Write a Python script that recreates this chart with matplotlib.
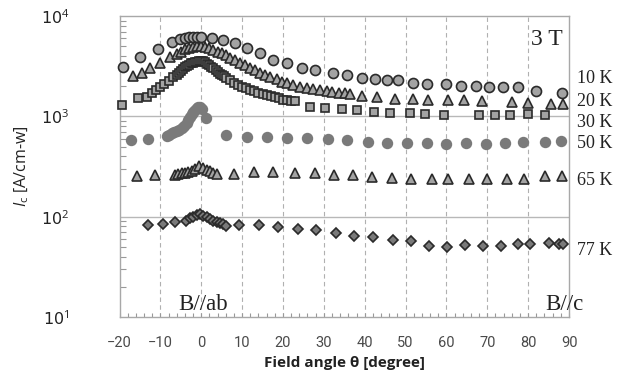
import matplotlib
matplotlib.use("Agg")
import matplotlib.pyplot as plt
from matplotlib.ticker import MultipleLocator, LogLocator, FixedLocator, NullFormatter

# ---------------- data ----------------
x_10K = [-19.2, -15, -10.7, -7.2, -5.2, -4, -3, -2, -1, 0, 2.6, 5.4, 8.3, 11.1, 14.4,
         17.6, 20.9, 24.6, 27.8, 32.3, 35.6, 39.3, 42.5, 45.5, 48.2, 51.9, 55.2, 59.8,
         63.6, 67.2, 70.4, 73.8, 77.5, 81.9, 88.2]
y_10K = [3120, 3875, 4650, 5500, 5900, 6080, 6150, 6200, 6200, 6150, 6000, 5720, 5380,
         4830, 4250, 3640, 3370, 3050, 2900, 2720, 2560, 2390, 2370, 2300, 2280, 2160,
         2100, 2100, 2005, 1990, 1980, 1980, 1970, 1800, 1720]

x_20K = [-16.6, -14.6, -12.5, -10.1, -7.6, -6, -5, -4, -3, -2, -1, 0, 1, 2, 3, 4, 5, 6,
         7, 8.3, 9.5, 10.7, 11.9, 13.2, 14.4, 15.6, 16.8, 18.5, 19.7, 20.9, 22.5, 24.2,
         25.8, 27.4, 29.1, 30.7, 32, 33.6, 35.2, 36.4, 39.3, 42.9, 47.4, 51.9, 55.6,
         60.5, 64.2, 68.6, 76, 79.9, 85.5, 88.6]
y_20K = [2500, 2720, 3010, 3430, 3875, 4150, 4400, 4700, 4850, 4950, 5000, 5000, 4900,
         4800, 4600, 4400, 4250, 4050, 3840, 3640, 3420, 3245, 3050, 2900, 2720, 2580,
         2450, 2340, 2210, 2130, 2050, 1970, 1930, 1890, 1850, 1800, 1760, 1720, 1690,
         1668, 1603, 1556, 1500, 1475, 1460, 1460, 1450, 1430, 1390, 1350, 1330, 1320]

x_30K = [-19.5, -15.4, -13.3, -12, -11, -10, -9, -8, -7, -6, -5.5, -5, -4.5, -4, -3.5,
         -3, -2.5, -2, -1.5, -1, -0.5, 0, 0.5, 1, 1.5, 2, 2.5, 3, 3.5, 4, 4.5, 5, 5.5, 6,
         7, 8, 9, 10, 11, 12, 13, 14, 15, 16, 17, 18, 19, 20, 21, 22, 23, 26.6, 30.3,
         34.4, 38, 42.3, 46.2, 51.1, 54.8, 59.4, 68, 71.9, 75.6, 79.9, 84.1]
y_30K = [1300, 1510, 1570, 1710, 1830, 1970, 2090, 2240, 2440, 2580, 2700, 2830, 2950,
         3070, 3180, 3280, 3370, 3430, 3480, 3510, 3540, 3555, 3520, 3440, 3350, 3240,
         3130, 3000, 2880, 2770, 2660, 2580, 2500, 2420, 2280, 2160, 2060, 1970, 1900,
         1840, 1780, 1720, 1680, 1630, 1590, 1550, 1510, 1470, 1450, 1430, 1420, 1248,
         1202, 1175, 1156, 1112, 1072, 1072, 1050, 1030, 1040, 1040, 1040, 1045, 1030]

x_50K = [-17.3, -13, -8.4, -7.8, -7.2, -6.6, -6, -5.4, -4.8, -4.2, -3.6, -3.2, -2.75,
         -2.3, -1.9, -1.5, -1.1, -0.7, -0.3, 0.1, 1.1, 6, 11.1, 16, 20.9, 25.8, 31.1,
         35.6, 40.9, 45.5, 50.4, 55.2, 59.8, 64.8, 69.6, 74.3, 78.7, 84.1, 88]
y_50K = [581, 590, 637, 655, 676, 693, 713, 735, 758, 800, 851, 920, 991, 1050, 1112,
         1160, 1202, 1240, 1245, 1175, 955, 651, 627, 627, 615, 609, 590, 581, 558, 546,
         538, 546, 530, 546, 530, 546, 558, 558, 565]

x_65K = [-15.6, -11.3, -6.4, -5.6, -4.8, -4.0, -3.2, -2.3, -1.5, -0.5, 0.5, 1.3, 2.1,
         2.9, 3.8, 8, 12.9, 17.5, 22.9, 27.8, 32.4, 37.1, 41.7, 46.6, 51.3, 56.4, 60.5,
         65.6, 69.9, 74.8, 79, 84.1, 88.2]
y_65K = [254, 260, 260, 266, 270, 274, 281, 287, 297, 322, 303, 292, 285, 274, 264, 266,
         277, 277, 270, 270, 260, 260, 247, 244, 236, 236, 236, 236, 236, 236, 240, 254,
         254]

x_77K = [-13, -9.4, -6.4, -3.7, -2.75, -1.9, -1.1, -0.3, 0.5, 1.3, 2.1, 2.9, 3.8, 4.6,
         5.4, 6.0, 9.3, 14.2, 18.7, 23.6, 28.1, 33.1, 37.4, 42.1, 47, 51.3, 55.7, 60.1,
         64.6, 69, 73.3, 77.6, 80.5, 85, 87.6, 88.6]
y_77K = [82.4, 83.7, 88.9, 91, 96.2, 100, 104, 105.6, 102, 98.5, 94.6, 91, 89, 85.7,
         83.7, 81, 82.4, 82.4, 78.2, 75.2, 74, 68, 64.1, 62.3, 58.5, 57.2, 51.3, 50.4,
         52.1, 51, 51, 53.3, 54, 54.8, 53.3, 53.3]

series_labels = ["10 K", "20 K", "30 K", "50 K", "65 K", "77 K"]
x_ticks = list(range(-20, 91, 10))
x_ticklabels = ["\u221220", "\u221210"] + [str(v) for v in range(0, 91, 10)]
y_ticks = [10, 100, 1000, 10000]
y_ticklabels = ["10$^{1}$", "10$^{2}$", "10$^{3}$", "10$^{4}$"]

# ---------------- figure ----------------
plt.rcParams['mathtext.fontset'] = 'custom'
plt.rcParams['mathtext.rm'] = 'Open Sans'
plt.rcParams['mathtext.it'] = 'Open Sans:italic'

W, H = 625, 376
fig = plt.figure(figsize=(W / 100, H / 100), dpi=100)
ax = fig.add_axes([119.5 / W, 1 - 317 / H, (569 - 119.5) / W, (317 - 16) / H])

face = '#a3a3a3'
edge = '#2a2a2a'
dark = '#7a7a7a'
common = dict(linestyle='none', markeredgewidth=1.2, zorder=3, clip_on=False)
ax.plot(x_77K, y_77K, marker='D', ms=4.8, mfc=dark, mec=edge, **common)
ax.plot(x_65K, y_65K, marker='^', ms=6.8, mfc=face, mec=edge, **common)
ax.plot(x_50K, y_50K, marker='o', ms=7.0, mfc=dark, mec=dark, **common)
ax.plot(x_30K, y_30K, marker='s', ms=6.4, mfc=face, mec=edge, **common)
ax.plot(x_20K, y_20K, marker='^', ms=6.8, mfc=face, mec=edge, **common)
ax.plot(x_10K, y_10K, marker='o', ms=7.2, mfc=face, mec=edge, **common)

ax.set_yscale('log')
ax.set_xlim(-20, 90)
ax.set_ylim(10, 10000)

ax.xaxis.set_major_locator(FixedLocator(x_ticks))
ax.set_xticklabels(x_ticklabels, fontsize=10.5, color='#4a4a4a', family='Roboto')
ax.xaxis.set_minor_locator(MultipleLocator(2))
ax.yaxis.set_major_locator(FixedLocator(y_ticks))
ax.set_yticklabels(y_ticklabels, fontsize=11.5, color='#222222')
ax.yaxis.set_minor_locator(LogLocator(base=10, subs=range(2, 10)))
ax.yaxis.set_minor_formatter(NullFormatter())

ax.tick_params(axis='x', which='both', direction='in', length=3, width=0.8,
               color='#999999', pad=14, top=False)
ax.tick_params(axis='y', which='major', direction='in', length=0, pad=36)
ax.tick_params(axis='y', which='minor', direction='in', length=4, width=0.8,
               color='#999999', right=False)

for s in ax.spines.values():
    s.set_color('#a8a8a8')
    s.set_linewidth(1.0)

for xv in x_ticks[1:-1]:
    ax.axvline(xv, color='#b0b0b0', lw=0.8, ls=(0, (4, 3)), zorder=1)
for yv in y_ticks[1:-1]:
    ax.axhline(yv, color='#b8b8b8', lw=1.0, zorder=1)

ax.set_xlabel("Field angle \u03b8 [degree]", fontsize=11, fontweight='bold',
              family='Open Sans', color='#222222', labelpad=4)
fig.text(22 / W, 1 - 166 / H, "$I$$_{\\mathrm{c}}$ [A/cm-w]", rotation=90,
         fontsize=11.5, family='Open Sans', color='#222222', ha='center', va='center')

serif = 'Liberation Serif'
fig.text(563 / W, 1 - 45 / H, "3 T", fontsize=17, family=serif, ha='right',
         va='baseline', color='#222222')
fig.text(178 / W, 1 - 310 / H, "B//ab", fontsize=16.5, family=serif, ha='left',
         va='baseline', color='#222222')
fig.text(545 / W, 1 - 310 / H, "B//c", fontsize=16.5, family=serif, ha='left',
         va='baseline', color='#222222')

label_baselines = [83, 106, 127, 148, 185, 255]
for lab, yb in zip(series_labels, label_baselines):
    fig.text(577 / W, 1 - yb / H, lab, fontsize=13, family=serif, ha='left',
             va='baseline', color='#222222')

fig.savefig("out.png", dpi=100)
